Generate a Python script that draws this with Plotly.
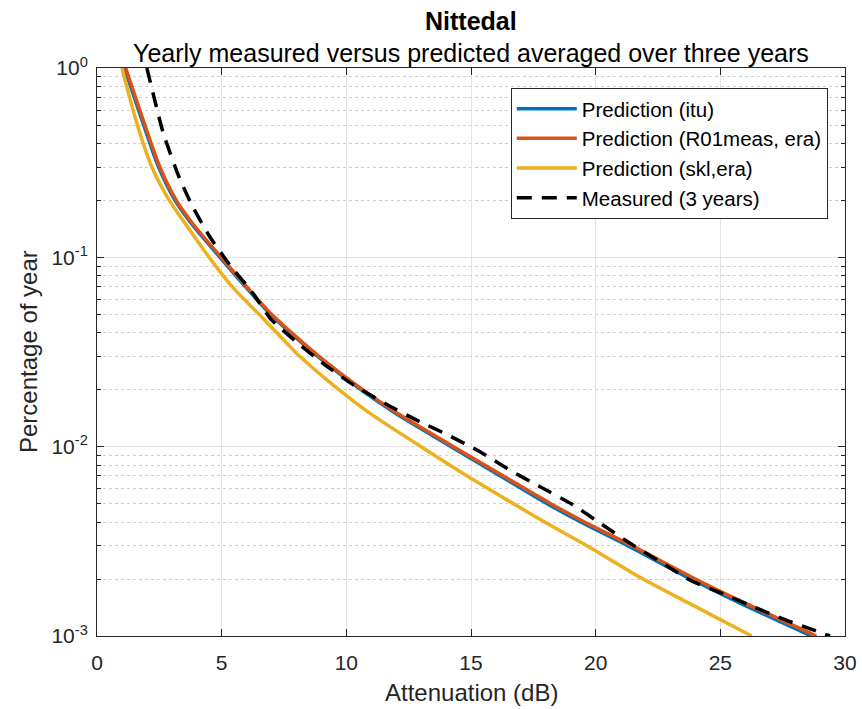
import plotly.graph_objects as go

# Percentages of year at which predictions are read
p_pred = [1.0, 0.5, 0.3, 0.2, 0.15, 0.1, 0.07, 0.05, 0.04, 0.03, 0.02, 0.015,
          0.01, 0.007, 0.005, 0.004, 0.003, 0.002, 0.0015, 0.001]
a_itu = [1.10, 1.87, 2.47, 3.13, 3.80, 4.93, 5.95, 6.95, 7.75, 8.85, 10.58, 11.97,
         14.20, 16.18, 18.05, 19.40, 21.28, 23.82, 25.75, 28.65]
a_r01 = [1.15, 1.92, 2.52, 3.18, 3.85, 4.98, 6.00, 7.00, 7.80, 8.90, 10.65, 12.05,
         14.30, 16.30, 18.20, 19.55, 21.45, 24.00, 25.95, 28.85]
a_skl = [1.00, 1.62, 2.20, 2.90, 3.55, 4.50, 5.42, 6.50, 7.21, 8.13, 9.70, 10.95,
         13.00, 14.85, 16.70, 17.95, 19.65, 21.90, 23.70, 26.26]

# Measured (3 years)
a_meas = [2.0, 2.66, 3.26, 3.8, 4.53, 5.33, 6.2, 7.0, 8.07, 9.15, 10.28, 11.55, 12.82,
          14.09, 15.36, 16.57, 17.77, 19.04, 20.18, 21.38, 22.58, 23.79, 25.06, 26.33,
          27.66, 29.4]
p_meas = [1.0, 0.452, 0.272, 0.189, 0.128, 0.091, 0.066, 0.0467, 0.0351, 0.027, 0.0212,
          0.0169, 0.0138, 0.0115, 0.0094, 0.0075, 0.00614, 0.00498, 0.00394, 0.00309,
          0.00247, 0.00197, 0.00168, 0.001426, 0.00121, 0.001]

x_ticks = [0, 5, 10, 15, 20, 25, 30]
y_ticks = [1e-3, 1e-2, 1e-1, 1]
y_ticktext = ["10<sup>-3</sup>", "10<sup>-2</sup>", "10<sup>-1</sup>", "10<sup>0</sup>"]
y_minor = [m * 10.0 ** e for e in (-3, -2, -1) for m in range(2, 10)]

fig = go.Figure()
fig.add_trace(go.Scatter(x=a_itu, y=p_pred, mode="lines", name="Prediction (itu)",
                         line=dict(color="#0072BD", width=3.5, shape="spline", smoothing=0.8)))
fig.add_trace(go.Scatter(x=a_r01, y=p_pred, mode="lines", name="Prediction (R01meas, era)",
                         line=dict(color="#D95319", width=3.5, shape="spline", smoothing=0.8)))
fig.add_trace(go.Scatter(x=a_skl, y=p_pred, mode="lines", name="Prediction (skl,era)",
                         line=dict(color="#EDB120", width=3.5, shape="spline", smoothing=0.8)))
fig.add_trace(go.Scatter(x=a_meas, y=p_meas, mode="lines", name="Measured (3 years)",
                         line=dict(color="black", width=3.5, dash="15px,10px",
                                   shape="spline", smoothing=0.5)))

font = "Liberation Sans, Arial, sans-serif"
T = 68.0
H = 568.0
W = 748.0


def py(pix):
    return 1 + (T - pix) / H


fig.update_layout(
    width=862, height=709,
    margin=dict(l=97, r=17, t=68, b=73),
    paper_bgcolor="white", plot_bgcolor="white",
    font=dict(family=font, size=21, color="#262626"),
    showlegend=True,
    legend=dict(x=0.977, y=0.965, xanchor="right", yanchor="top",
                bgcolor="white", bordercolor="#262626", borderwidth=1,
                font=dict(family=font, size=20.5, color="black"),
                tracegroupgap=0, itemwidth=60),
    xaxis=dict(range=[0, 30], tickvals=x_ticks, ticks="inside", ticklen=7,
               tickcolor="#262626", showline=True, linecolor="#262626", linewidth=1,
               mirror="ticks", showgrid=True, gridcolor="#e3e3e3", gridwidth=1,
               zeroline=False, automargin=False, ticklabelstandoff=8,
               tickfont=dict(size=21)),
    yaxis=dict(type="log", range=[-3, 0], tickmode="array", tickvals=y_ticks,
               ticktext=y_ticktext, ticks="inside", ticklen=7, tickcolor="#262626",
               showline=True, linecolor="#262626", linewidth=1, mirror="ticks",
               showgrid=True, gridcolor="#e3e3e3", gridwidth=1, zeroline=False,
               automargin=False, ticklabelstandoff=4,
               tickfont=dict(size=21),
               minor=dict(tickmode="array", tickvals=y_minor, ticks="inside", ticklen=4,
                          tickcolor="#262626", showgrid=True, gridcolor="#cfcfcf",
                          griddash="dot", gridwidth=1)),
    annotations=[
        dict(text="<b>Nittedal</b>", xref="paper", yref="paper", x=0.5, y=py(21),
             xanchor="center", yanchor="middle", showarrow=False,
             font=dict(family=font, size=25, color="black")),
        dict(text="Yearly measured versus predicted averaged over three years",
             xref="paper", yref="paper", x=0.5, y=py(53),
             xanchor="center", yanchor="middle", showarrow=False,
             font=dict(family=font, size=25, color="black")),
        dict(text="Attenuation (dB)", xref="paper", yref="paper", x=0.5, y=py(692),
             xanchor="center", yanchor="middle", showarrow=False,
             font=dict(family=font, size=24, color="#262626")),
        dict(text="Percentage of year", xref="paper", yref="paper",
             x=(28 - 97) / W, y=0.5, textangle=-90,
             xanchor="center", yanchor="middle", showarrow=False,
             font=dict(family=font, size=24, color="#262626")),
    ],
)

fig.write_html("out.html")
